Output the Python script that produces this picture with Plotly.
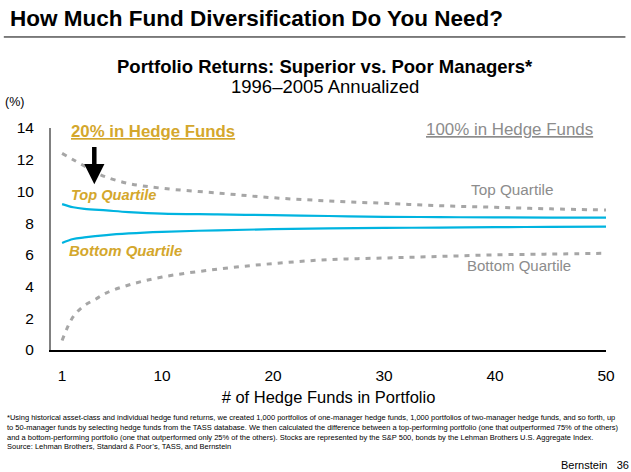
import plotly.graph_objects as go

# x = number of hedge funds in portfolio
funds_20 = [1, 2, 3, 5, 7, 10, 15, 20, 25, 30, 35, 40, 45, 50]
top_20 = [9.2, 9.0, 8.9, 8.8, 8.7, 8.6, 8.55, 8.5, 8.45, 8.4, 8.38, 8.36, 8.35, 8.35]
bottom_20 = [6.75, 7.0, 7.1, 7.25, 7.35, 7.45, 7.55, 7.62, 7.67, 7.7, 7.72, 7.75, 7.76, 7.78]

funds_100 = [1, 2, 3, 4, 5, 7, 10, 15, 20, 25, 30, 35, 40, 45, 50]
top_100 = [12.4, 12.0, 11.6, 11.2, 10.9, 10.5, 10.2, 9.9, 9.6, 9.4, 9.25, 9.1, 9.0, 8.9, 8.83]
bottom_100 = [0.6, 2.1, 2.8, 3.2, 3.6, 4.1, 4.6, 5.1, 5.45, 5.7, 5.8, 5.9, 6.0, 6.05, 6.1]

x_ticks = [1, 10, 20, 30, 40, 50]
y_ticks = [0, 2, 4, 6, 8, 10, 12, 14]

FONT = "Liberation Sans, Arial, sans-serif"
CYAN = "#00B4E0"
GREY = "#A6A6A6"
GOLD = "#D4A72C"
TEXT_GREY = "#8C8C8C"

fig = go.Figure()

for ys in (top_100, bottom_100):
    fig.add_trace(go.Scatter(
        x=funds_100, y=ys, mode="lines",
        line=dict(color=GREY, width=3, dash="5px,6px", shape="spline"),
        showlegend=False, hoverinfo="skip"
    ))

for ys in (top_20, bottom_20):
    fig.add_trace(go.Scatter(
        x=funds_20, y=ys, mode="lines",
        line=dict(color=CYAN, width=2.2, shape="spline"),
        showlegend=False, hoverinfo="skip"
    ))

fig.update_layout(
    width=631, height=472,
    margin=dict(l=51, r=25, t=128, b=122),
    paper_bgcolor="white",
    plot_bgcolor="white",
    font=dict(family=FONT, color="black"),
    xaxis=dict(
        range=[0, 50], tickvals=x_ticks, showgrid=False, zeroline=False,
        showline=True, linecolor="black", linewidth=1.5,
        tickfont=dict(size=15.5), ticklabelstandoff=11,
        title=dict(text="# of Hedge Funds in Portfolio", font=dict(size=16.5), standoff=8)
    ),
    yaxis=dict(
        range=[0, 14], tickvals=y_ticks, showgrid=False, zeroline=False,
        showline=True, linecolor="#808080", linewidth=2,
        tickfont=dict(size=15.5), ticklabelstandoff=12
    ),
)

annotations = [
    dict(text="<b>How Much Fund Diversification Do You Need?</b>", xref="paper", yref="paper",
         x=-0.078, y=1.495, xanchor="left", yanchor="middle", font=dict(size=22.5)),
    dict(text="<b>Portfolio Returns: Superior vs. Poor Managers*</b>", xref="paper", yref="paper",
         x=0.494, y=1.279, xanchor="center", yanchor="middle", font=dict(size=18.5)),
    dict(text="1996\u20132005 Annualized", xref="paper", yref="paper",
         x=0.494, y=1.189, xanchor="center", yanchor="middle", font=dict(size=18.5)),
    dict(text="(%)", xref="paper", yref="paper",
         x=-0.065, y=1.117, xanchor="center", yanchor="middle", font=dict(size=12.5)),
    dict(text="<b><u>20% in Hedge Funds</u></b>", xref="x", yref="y",
         x=1.6, y=13.8, xanchor="left", yanchor="middle", font=dict(size=16.8, color=GOLD)),
    dict(text="<u>100% in Hedge Funds</u>", xref="x", yref="y",
         x=33.6, y=13.9, xanchor="left", yanchor="middle", font=dict(size=16.9, color=TEXT_GREY)),
    dict(text="<b><i>Top Quartile</i></b>", xref="x", yref="y",
         x=1.6, y=9.8, xanchor="left", yanchor="middle", font=dict(size=14.6, color=GOLD)),
    dict(text="<b><i>Bottom Quartile</i></b>", xref="x", yref="y",
         x=1.45, y=6.3, xanchor="left", yanchor="middle", font=dict(size=15, color=GOLD)),
    dict(text="Top Quartile", xref="x", yref="y",
         x=37.7, y=10.1, xanchor="left", yanchor="middle", font=dict(size=15.3, color=TEXT_GREY)),
    dict(text="Bottom Quartile", xref="x", yref="y",
         x=37.3, y=5.3, xanchor="left", yanchor="middle", font=dict(size=15, color=TEXT_GREY)),
    dict(text="", xref="x", yref="y", axref="x", ayref="y",
         x=3.9, y=10.45, ax=3.9, ay=12.9, showarrow=True,
         arrowhead=2, arrowsize=0.9, arrowwidth=4.5, arrowcolor="black"),
    dict(text="*Using historical asset-class and individual hedge fund returns, we created 1,000 portfolios of one-manager hedge funds, 1,000 portfolios of two-manager hedge funds, and so forth, up"
              "<br>to 50-manager funds by selecting hedge funds from the TASS database. We then calculated the difference between a top-performing portfolio (one that outperformed 75% of the others)"
              "<br>and a bottom-performing portfolio (one that outperformed only 25% of the others). Stocks are represented by the S&P 500, bonds by the Lehman Brothers U.S. Aggregate Index."
              "<br>Source: Lehman Brothers, Standard & Poor\u2019s, TASS, and Bernstein",
         xref="paper", yref="paper", x=-0.083, y=-0.275, xanchor="left", yanchor="top",
         align="left", font=dict(size=7.5, family="Liberation Sans Narrow, Liberation Sans, sans-serif")),
    dict(text="Bernstein   36", xref="paper", yref="paper", x=1.045, y=-0.518,
         xanchor="right", yanchor="middle", font=dict(size=11)),
]
for a in annotations:
    a.setdefault("showarrow", False)
    fig.add_annotation(**a)

fig.add_shape(type="line", xref="paper", yref="paper", x0=-0.085, x1=1.035, y0=1.41, y1=1.41,
              line=dict(color="black", width=1))

fig.write_html("out.html", config={"displayModeBar": False},
               post_script="document.body.style.margin='0';")
